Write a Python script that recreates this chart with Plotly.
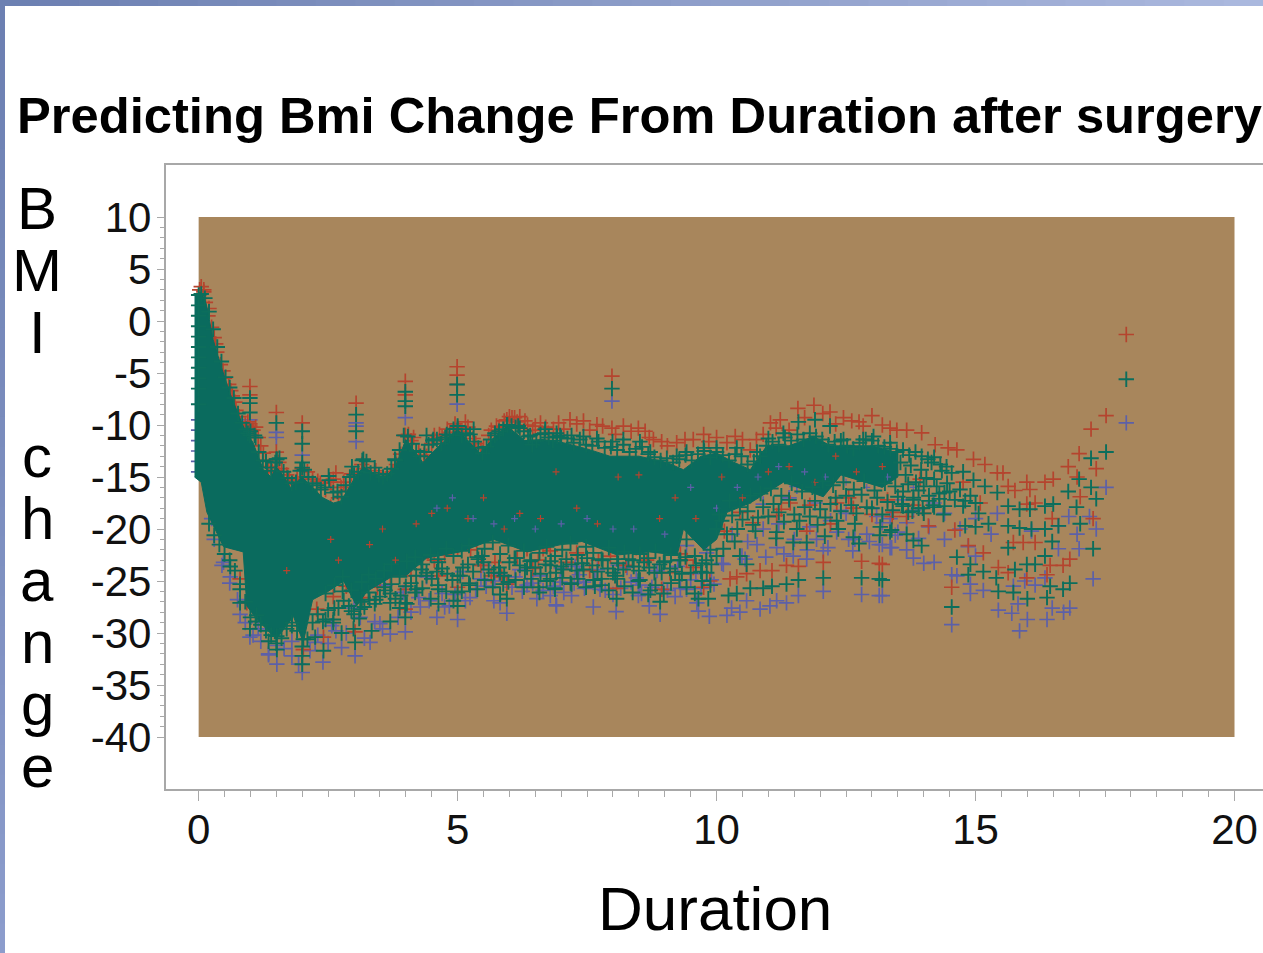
import plotly.graph_objects as go

TITLE = "Predicting Bmi Change From Duration after surgery"
X_LABEL = "Duration"
Y_LABEL_LETTERS = ["B", "M", "I", "", "c", "h", "a", "n", "g", "e"]
X_TICKS = [0, 5, 10, 15, 20]
X_TICK_TEXT = ["0", "5", "10", "15", "20"]
Y_TICKS = [10, 5, 0, -5, -10, -15, -20, -25, -30, -35, -40]
Y_TICK_TEXT = ["10", "5", "0", "-5", "-10", "-15", "-20", "-25", "-30", "-35", "-40"]

# outline of the region where the plus signs overprint into a solid mass
core_top_x = [-0.08,0.05,0.15,0.28,0.45,0.6,0.85,1.05,1.25,1.4,1.5,1.65,1.77,2.0,2.2,2.4,2.6,2.75,3.0,3.18,3.56,3.8,4.0,4.15,4.33,4.6,5.0,5.2,5.43,5.7,5.95,6.3,6.65,7.04,7.5,7.94,8.5,9.04,9.36,9.7,10,10.3,10.65,10.97,11.4,11.87,12.2,12.58,13,13.5]
core_top_y = [2.5,2.8,1.6,-1.8,-4.6,-6.9,-10,-11.7,-14.3,-15,-14,-15,-16,-15,-16,-17,-17.5,-17.3,-15.2,-14,-15.2,-14,-11.4,-12.4,-13.6,-12.2,-10.4,-11.5,-12.7,-11.2,-10.1,-11.5,-11.4,-11.7,-12.3,-13,-13,-13.6,-14.3,-13,-12.7,-13.5,-14.3,-12,-12,-11.1,-12,-12,-12,-12.7]
core_bot_x = [-0.08,0.05,0.16,0.48,0.86,0.93,1.13,1.5,1.83,2.02,2.2,2.5,2.8,3.05,3.25,3.76,4.0,4.4,5.05,5.7,6.34,7,7.4,8.08,8.7,9.24,9.36,9.75,10,10.2,10.65,11.29,12.06,12.4,13.2,13.5]
core_bot_y = [-15,-15.5,-18.4,-21.7,-22.2,-27.4,-28.7,-30.6,-28.4,-30.9,-26.8,-26,-25,-27.4,-26,-24.5,-24.5,-22.8,-22.2,-21,-22.2,-21.5,-21.2,-22.5,-22.2,-22.5,-20,-22,-21,-18.4,-17.5,-15.5,-16.9,-14.8,-16,-15]

blue_x = [0.0,0.0,0.0,0.0,0.0,0.0,0.99,1.5,1.5,2.0,3.04,3.04,3.04,3.99,4.99,7.98,
0.25,0.48,0.61,0.8,0.99,1.15,1.35,1.51,1.51,1.8,1.93,2.0,2.25,2.4,2.57,2.76,3.02,3.31,3.5,3.7,3.99,4.28,4.6,4.84,5,5.24,5.95,5.82,6.11,6.53,6.91,5.5,5.72,6.34,3,3.12,1.25,
6.9,7.62,8.06,8.0,8.7,8.91,8.49,9.3,9.42,9.62,9.65,9.86,10.2,10.29,10.45,10.58,10.84,11.03,11.16,11.35,11.58,12.06,12.8,13.14,13.38,13.14,12.63,12.67,12.32,12.06,11.74,11.48,11.16,10.78,10.49,10.13,9.81,7.43,7.2,7.75,8.52,8.27,8.97,9.42,7.27,6.79,6.98,11.93,11.55,12.45,13.09,
17.91,17.52,17.33,17.2,16.96,16.8,17,17.27,16.6,16.82,16.7,16.48,16.38,16,15.85,15.7,15.44,15.82,15.73,15.95,16.15,16.34,15.15,14.9,14.9,14.54,14.64,14.54,14.2,14.0,13.8,13.67,13.35,13.2,15.42,15,14.86,16.08,16.6,14.4,13.67,13.35,13.2,
.3,.45,.6,.75,.9,1.05,1.2,1.35,1.65,1.8,2.15,2.3,2.5,2.65,2.85,3.2,3.4,3.55,3.85,4.1,4.25,4.45,4.75,4.95,5.15,5.35,5.55,5.7,6.05,6.25,6.45,6.65,6.85,7.05,7.25,7.45,7.65,7.85,8.15,8.35,8.55,8.75,9.05,9.2,9.5,9.7,9.95,
10.3,10.6,10.9,11.2,11.5,11.8,12.2,12.5,12.9,13.2,13.5,13.8,14.1,14.4,14.7,15,15.3,10.9,11.4,11.9,12.4,13,13.6,14.2,
3.6,3.95,4.4,4.7,5.1,5.45,5.8,6.2,6.6,7.0,7.35,7.7,8.1,8.45,8.85,9.25,9.6,9.9,10.1,10.55,10.95,11.3,11.75,12.15,12.55,12.95,13.45,13.9]
blue_y = [-9.5,-10.5,-11.5,-12.5,-13.5,-14.5,-9.5,-10.7,-11.2,-12.9,-9.8,-10.1,-11.6,-9.3,-8,-7.7,
-19,-23.2,-24.6,-28.2,-30.4,-29.6,-32,-31.2,-33,-32.2,-33,-33.8,-30.9,-32.8,-29.3,-31.4,-32.2,-30.9,-29.1,-30.1,-29.9,-27.5,-28.5,-27.4,-28.7,-26.6,-28.1,-27.1,-24.6,-26.7,-27.4,-23.5,-25,-25.4,-27.6,-28.5,-27.4,
-27.3,-27.5,-27.95,-26.3,-27.4,-28.2,-26.4,-25.7,-25.8,-27.1,-27.9,-28.4,-28.3,-27.6,-28,-26.9,-27.7,-27.4,-26.9,-27.1,-26.4,-26,-26.3,-26.4,-21.8,-21.5,-22.1,-21,-20.3,-22.1,-22.9,-22.6,-21.8,-21.5,-22.6,-23.4,-22.3,-25.1,-26.4,-25.8,-25.4,-23.7,-25.8,-21.6,-23.6,-26.4,-25.1,-21,-15.9,-14.6,-18.8,
-9.8,-16,-20,-18.8,-20.5,-18.8,-21.9,-24.8,-21.9,-27.6,-28,-27.6,-28.7,-28.7,-29.8,-28.1,-27.8,-27.2,-25.5,-25,-25.4,-24.7,-25.9,-26.2,-25.3,-24.4,-24.5,-29.2,-23.2,-23.3,-22.8,-22,-21.8,-26.4,-18.5,-22.6,-21.7,-20.2,-19.7,-21,-19.4,-19,-21.5,
-21,-23.5,-25.2,-26.8,-29,-30.2,-30.8,-32.1,-31.5,-30.8,-31.7,-30.2,-31,-29.8,-30,-30.5,-28.9,-29.6,-28.5,-28,-26.6,-26.9,-27.5,-26.3,-26.9,-25.8,-25.5,-26.9,-25.6,-26,-25.2,-25.9,-25.5,-26.1,-25.2,-25.7,-24.9,-25.9,-25.7,-25.1,-26.2,-25.6,-25.9,-26.5,-24.9,-25.7,-25.3,
-20.5,-21.2,-20,-19.5,-21,-19.8,-19.2,-18.5,-20.5,-19.4,-20.3,-18.2,-19.8,-18.5,-20,-19,-20.5,-17.6,-17,-17.5,-18.2,-18,-17.2,-17.5,
-25.4,-26.1,-24.6,-26.2,-24.1,-24.8,-24.3,-23.9,-24.5,-23.8,-24.4,-23.9,-23.5,-24.7,-24,-23.6,-24.3,-24.9,-23.3,-22.9,-22.7,-22.4,-22,-21.8,-21,-21.2,-20.6,-20.9]

red_x = [0.02,0.05,0.1,0.13,0.18,0.25,0.3,0.35,0.42,0.5,0.58,0.65,0.72,0.8,0.9,1.1,1.2,1.3,1.42,1.55,1.7,1.82,1.9,2.1,2.3,2.45,2.55,2.65,2.75,2.85,2.95,3.08,3.15,3.3,3.42,3.55,3.7,3.82,3.98,4.1,4.25,4.4,4.55,4.7,4.85,5,5.1,5.2,5.35,5.45,5.6,5.75,5.9,6,6.1,6.2,6.3,6.45,6.6,6.75,
6.95,7.17,7.43,7.69,7.98,8.2,8.49,8.62,8.78,8.94,9.23,9.39,9.75,10,10.36,10.5,10.77,11.04,11.23,11.57,11.88,12.19,12.45,12.61,13,12.83,13.35,13.48,
13.67,13.96,14.22,14.47,14.64,14.96,15.18,15.42,15.53,15.63,15.76,15.99,16.05,16.34,16.5,16.79,17,17.23,17.52,17.91,
17.33,16.96,17.02,17.27,16.48,16.82,16.69,16.44,16.38,15.73,15.92,16.15,15.44,15.63,15.99,14.54,13.2,14.6,14.86,15.15,13.93,14.09,13.67,13.39,15.09,15.99,16.15,14.76,
0.99,0.99,0.99,0.99,1.5,1.5,2.0,2.0,3.04,3.99,3.99,3.99,4.99,4.99,4.99,7.98,
2.45,2.55,2.7,10.26,10.39,10.58,10.84,11.07,11.35,11.58,12.06,12.8,13.14,9.42,9.87,9.75,8.07,8.94,7.72,11.42,10.45,11.16,11.74,12.64,13.41,12.32,
0.8,0.93,1.35,2.02,2.41,3.02,2.28,2.51,3.18,3.5,3.7,3.99,3.99,4.63,4.63,5,5,5.72,5.95,6.34,6.56,6.79,5.37,4.02,
.1,.2,.33,.47,.62,.7,.78,.95,1.05,1.15,1.25,1.35,1.5,1.6,1.75,2.0,2.2,2.35,2.6,2.8,3.05,3.2,3.4,3.6,3.75,3.9,4.05,4.15,4.35,4.5,4.65,4.8,4.95,5.05,5.15,5.3,5.5,5.65,5.8,5.95,6.05,6.15,6.35,6.5,6.7,6.85,7.05,7.3,7.55,7.8,8.05,8.35,8.7,9.05,9.55,9.85,10.2,10.65,10.9,11.15,11.4,11.7,12.05,12.3,12.75,13.2,
2.3,2.6,2.85,3.25,3.45,3.85,4.1,4.3,4.55,4.75,5.25,5.45,5.65,5.85,6.15,6.45,6.65,7.1,7.3,7.55,7.95,8.25,8.45,8.65,9.1,9.3,9.55,
10.15,10.7,11.25,11.8,12.2,12.55,13.0,13.3,13.8,14.0]
red_y = [3,3.3,2.8,1.8,0.5,-0.6,-1.6,-3,-4.2,-5.5,-6.1,-7.2,-8.6,-9.9,-10,-10.2,-12,-13.4,-14.5,-13.6,-14.8,-15.7,-15.2,-14.5,-15.4,-16.2,-15.5,-14.6,-16,-16.3,-14.7,-15.8,-13.8,-15,-14.4,-15.6,-15,-13.8,-11,-11.5,-12.5,-13,-11,-11.2,-10.7,-10.2,-11,-10.2,-11.8,-12.3,-11,-10.1,-9.6,-9.2,-9.3,-9.2,-9.6,-10.5,-9.8,-10.8,
-9.8,-9.5,-9.6,-9.97,-10.3,-10.1,-10.3,-10.6,-11.4,-11.6,-11.7,-11.4,-10.9,-11.2,-11.1,-11.4,-11.4,-9.8,-9.5,-8.4,-8.1,-8.75,-9.3,-9.6,-9.1,-10.1,-10.3,-10.5,
-10.5,-10.75,-11.9,-12.2,-12.4,-13.3,-13.8,-14.6,-14.6,-15.9,-16.3,-15.5,-16.2,-15.5,-15.2,-14,-12.75,-10.4,-9.1,-1.3,
-14.2,-15,-16.9,-19,-19,-22.9,-23.5,-23.5,-24.4,-21.3,-21.3,-21.3,-23.7,-24.2,-24.7,-25.6,-23.4,-20.1,-21.6,-22.3,-15.2,-19.7,-18.8,-18.8,-17.5,-17.6,-17.5,-15.5,
-6.3,-7.1,-9.9,-10.1,-8.8,-12.6,-9.8,-14.2,-7.9,-5.8,-7.1,-11,-4.4,-5.2,-6.1,-5.3,
-18,-17.9,-17,-24.8,-24.6,-24.3,-24,-24,-23.5,-23.6,-23.2,-23.1,-23.3,-23,-25,-25.6,-25.7,-25.8,-23,-17.5,-18.4,-18.7,-20.2,-18,-18.4,-17.5,
-24.8,-27.1,-28.3,-31.6,-30.4,-29.9,-27.7,-23.8,-26.6,-24.8,-24.5,-25.8,-27.7,-22.1,-24.5,-21.9,-25.6,-23.2,-25.3,-21.9,-23,-22.1,-21.3,-22.6,
3,1.2,-2.2,-4.8,-6.7,-7.8,-9.2,-9.7,-10.5,-11.2,-12.7,-14,-14.4,-14.2,-15.3,-15,-15.2,-15.6,-15.2,-15.5,-14.9,-14.2,-14.6,-15.2,-14.5,-12.8,-10.9,-11.2,-12.9,-11.8,-10.9,-10.4,-9.9,-10.6,-9.7,-11.3,-12.1,-10.5,-10.2,-9.5,-9.3,-9.7,-10,-10.1,-10.2,-10.4,-10.4,-9.9,-10.5,-10.1,-10.9,-10.6,-11.2,-12,-11.4,-11.6,-11.7,-12.4,-10.9,-10.3,-10.5,-9.3,-8.9,-9.9,-9.7,-10,
-25,-26.5,-25.5,-24,-25.6,-23.5,-24.5,-22.8,-23,-22.5,-22,-23.5,-24.5,-24.6,-22.8,-23.8,-21.9,-23.2,-22.3,-24,-22.6,-23.5,-21.8,-23,-24.2,-22.4,-23.7,
-20.2,-19.4,-18.1,-17.7,-19.5,-17,-18.6,-17.2,-17.7,-18.5]

green_x = [0.0,0.0,0.0,0.0,0.0,0.0,0.0,0.0,0.0,0.0,0.0,
0.99,0.99,0.99,0.99,1.5,1.5,2.0,2.0,2.0,3.04,3.04,3.99,3.99,3.99,4.99,4.99,7.98,
1.51,2,2.51,2.96,3.18,3.79,4.4,4.53,4.79,5,5.31,5.72,5.95,6.17,6.4,6.69,6.91,0.95,1.1,1.3,
0.61,0.8,0.8,0.99,1.12,1.35,1.51,1.51,1.8,2.02,2,2,2.25,2.41,2.6,2.76,2.99,3.02,3.12,3.34,3.7,3.99,3.99,3.7,4.21,4.63,4.63,4.63,5,5,5.24,5.88,5.95,5.82,6.34,6.56,6.79,5.47,5.05,4.4,
6.88,7.2,7.65,8.04,8.07,8.72,8.91,8.49,8.94,9.33,9.84,9.65,9.81,10.23,10.39,10.65,10.9,11.07,11.35,11.58,12.06,12.8,13.14,13.38,13.16,12.67,12.64,12.32,12.09,11.74,11.48,11.16,10.58,10.45,10.13,7.43,7.04,7.78,6.79,
6.98,7.2,7.43,7.69,7.99,8.2,8.52,8.72,9.23,9.42,9.75,10,10.39,10.78,11,11.29,11.58,11.9,12.19,12.45,12.83,13.03,13.35,
17.91,17.52,17.23,17.23,17.33,17,16.79,16.95,17.02,17.27,16.48,16.5,16.34,16.05,15.85,15.63,15.42,15.18,14.96,14.76,14.54,16.08,15.85,15.63,16.34,16.6,16.34,16.15,15.99,15.76,16.44,16.38,16.69,16.82,16,15.73,15.44,15.4,15.15,14.9,14.86,14.64,14.54,13.96,13.8,13.67,13.35,13.2,15,14.8,15.63,15.25,15.06,14.76,
.05,.12,.2,.28,.36,.44,.52,.6,.68,.76,.84,.92,1.0,1.08,1.16,1.24,1.32,1.4,1.48,1.56,1.64,1.72,1.8,1.88,1.96,2.04,2.12,2.2,2.28,2.36,2.44,2.52,2.6,2.68,2.76,2.84,2.92,3.0,3.08,3.16,3.24,3.32,3.4,3.48,3.56,3.64,3.72,3.8,3.88,3.96,4.04,4.12,4.2,4.28,4.36,4.44,4.52,4.6,4.68,4.76,4.84,4.92,5.0,5.08,5.16,5.24,5.32,5.4,5.48,5.56,5.64,5.72,5.8,5.88,5.96,6.04,6.12,6.2,6.28,6.36,6.44,6.52,6.6,6.68,6.76,6.84,6.92,7.0,
7.12,7.24,7.36,7.48,7.6,7.72,7.84,7.96,8.08,8.2,8.32,8.44,8.56,8.68,8.8,8.92,9.04,9.16,9.28,9.4,9.52,9.64,9.76,9.88,10,10.12,10.24,10.36,10.48,10.6,10.72,10.84,10.96,11.08,11.2,11.32,11.44,11.56,11.68,11.8,11.92,12.04,12.16,12.28,12.4,12.52,12.64,12.76,12.88,13,13.12,13.24,13.36,13.48,13.6,13.72,13.84,13.96,14.08,14.2,14.32,14.44,
.2,.3,.4,.5,.6,.7,.8,.9,1,1.1,1.2,1.3,1.4,1.5,1.6,1.7,1.8,1.9,2,2.1,2.2,2.3,2.4,2.5,2.6,2.7,2.8,2.9,3,3.1,3.2,3.3,3.4,3.5,3.6,3.7,3.8,3.9,4,4.1,4.2,4.3,4.4,4.5,4.6,4.7,4.8,4.9,5,5.1,5.2,5.3,5.4,5.5,5.6,5.7,5.8,5.9,6,6.1,6.2,6.3,6.4,6.5,6.6,6.7,6.8,6.9,7,7.1,7.2,7.3,7.4,7.5,7.6,7.7,7.8,7.9,8,8.1,8.2,8.3,8.4,8.5,8.6,8.7,8.8,8.9,9,9.1,9.2,9.3,9.4,9.5,9.6,9.7,9.8,9.9,10,
10.0,10.1,10.2,10.3,10.4,10.5,10.6,10.7,10.8,10.9,11,11.1,11.2,11.3,11.4,11.5,11.6,11.7,11.8,11.9,12,12.1,12.2,12.3,12.4,12.5,12.6,12.7,12.8,12.9,13,13.1,13.2,13.3,13.4,13.5,13.6,13.7,13.8,13.9,14,14.1,14.2,14.3,14.4,14.5,14.6,14.7,14.8,14.9,15,
2.45,2.62,2.78,2.95,3.15,3.28,3.42,3.58,3.72,3.88,4.02,4.18,4.32,4.48,4.62,4.78,4.92,5.08,5.22,5.38,5.52,5.68,5.82,5.98,6.12,6.28,6.42,6.58,6.72,6.88,7.02,7.18,7.32,7.48,7.62,7.78,7.92,8.08,8.22,8.38,8.52,8.68,8.82,8.98,9.12,9.28,9.42,9.58,9.72,9.88,
2.45,2.62,2.78,2.95,3.15,3.28,3.42,3.58,3.72,3.88,4.02,4.18,4.32,4.48,4.62,4.78,4.92,5.08,5.22,5.38,5.52,5.68,5.82,5.98,6.12,6.28,6.42,6.58,6.72,6.88,7.02,7.18,7.32,7.48,7.62,7.78,7.92,8.08,8.22,8.38,8.52,8.68,8.82,8.98,9.12,9.28,9.42,9.58,9.72,9.88,
13.55,13.65,13.75,13.85,13.95,14.05,14.15,14.25,14.35,14.45,13.6,13.7,13.8,13.9,14,14.1,14.2,14.3,14.4,13.58,13.78,13.98,14.18,14.38,
10.05,10.25,10.45,10.65,10.85,11.05,11.25,11.45,11.65,11.85,12.05,12.25,12.45,12.65,12.85,13.05,13.25,13.45,10.35,10.75,11.15,11.55,11.95,12.35,12.75,13.15]
green_y = [2.5,1.5,0.5,-0.5,-1.5,-2.5,-3.5,-4.5,-5.5,-6.5,-8,
-7.4,-7.9,-8.8,-11,-9.8,-13.3,-10.6,-11.8,-13.6,-9,-10.6,-6.8,-8.2,-7.7,-6.1,-7.1,-6.5,
-13.3,-14.1,-14.9,-14,-13.3,-13.3,-11,-11.4,-10.9,-10.4,-10.4,-10.8,-10,-10.1,-11,-10.4,-10.8,-10.8,-11.2,-13.5,
-23.6,-25.8,-27.1,-29.6,-28.3,-30.8,-30.3,-31.6,-29.3,-30.6,-32.2,-33,-30.4,-31.7,-28.7,-30,-29.6,-30.9,-27.7,-29.8,-28.9,-28.5,-27.1,-27.1,-25.8,-23.2,-25.8,-27.2,-26.1,-27.4,-25.4,-25.3,-26.7,-24.2,-23.7,-25.6,-23.5,-22.6,-24.5,-24.5,
-25.8,-25.3,-25.5,-24.5,-26.7,-25.9,-27,-25,-24.2,-24.3,-26.7,-26.7,-24.2,-26.4,-26.2,-25.7,-25.7,-25.5,-25.3,-24.9,-24.7,-24.7,-24.8,-20.1,-19.8,-19.5,-20.8,-19.2,-20.7,-21.3,-21.3,-20.3,-23.4,-22.6,-21.9,-23.9,-23.9,-24.8,-24.8,
-11,-11,-11.1,-11.3,-11.6,-11.4,-11.6,-12.6,-13,-12.6,-12.2,-12.2,-12.2,-12.6,-11.3,-10.8,-9.7,-9.5,-10.1,-11.4,-11.4,-11.1,-11.7,
-5.6,-12.6,-13.2,-16,-17.1,-15.2,-16.4,-17.9,-19.5,-21.9,-21.2,-17.6,-17.8,-18.1,-18.1,-17.8,-16.5,-15.9,-15.3,-14.5,-14.6,-20,-19.9,-19.7,-20,-19.7,-22.6,-23.4,-23.4,-23.9,-25.5,-26.6,-25.8,-25.2,-26.7,-26.1,-26,-24.7,-24.1,-23.4,-24.4,-22.7,-27.5,-21.6,-21.1,-20.5,-20.3,-24.9,-19.8,-19.7,-21.8,-19.5,-18.5,-17.8,
2.6,2.2,.9,-.8,-2.5,-3.9,-5.4,-6.4,-7.4,-8.9,-9.8,-10.4,-10.6,-11,-12.6,-13.4,-14.1,-14.4,-13.6,-13.2,-14.5,-15.1,-15.6,-15.5,-14.4,-14.3,-15,-15.6,-15.8,-16.2,-16,-15.3,-16.5,-16.4,-16.9,-15.8,-15,-14.8,-14.5,-13.4,-13.5,-14.6,-14.1,-14.8,-15,-14.7,-14.2,-13.4,-12.4,-11,-11.1,-11.8,-12.5,-13,-12.6,-11.9,-11.5,-11.4,-11.8,-11.2,-11,-10.4,-10.1,-11,-10.8,-10.9,-11.6,-12.2,-12.7,-12.1,-11.4,-11,-10.6,-10.4,-10.0,-10.1,-10.2,-10.3,-10.6,-11.1,-11.9,-11.5,-10.9,-10.8,-11.2,-11.5,-11.1,-11.2,
-11.3,-11.7,-11.4,-11.9,-12,-11.6,-12.2,-12.1,-12.4,-11.9,-12.6,-12.3,-12.1,-12.8,-13.1,-13.4,-13.2,-13.6,-13.3,-12.9,-13.4,-12.8,-12.5,-13.1,-12.6,-12.9,-13.4,-12.8,-13,-13.8,-13.5,-13,-12,-11.6,-11.9,-11.2,-11.5,-10.9,-11.4,-10.8,-11.1,-11.4,-11.9,-11.6,-11.5,-12,-12.3,-11.7,-11.4,-11.5,-12,-12.1,-12.3,-12.6,-12.4,-12.9,-12.6,-13,-13.3,-13.1,-13.8,-14,
-19.5,-20.6,-21.5,-22.4,-23,-24,-25.3,-27,-28.5,-28.9,-29.2,-29.8,-30.2,-31,-30.5,-29.6,-29,-29.8,-31.3,-30.6,-29,-28.2,-28.9,-27.8,-29,-27.6,-26.9,-27.4,-28.2,-28.6,-27.5,-26.8,-27.2,-26.5,-25.9,-26.2,-26.7,-26.4,-25.5,-25.2,-24.5,-23.9,-24.2,-24.8,-24.1,-23.8,-24.3,-24.9,-24.5,-23.7,-23.4,-24.1,-22.9,-23.2,-23.9,-24.2,-23.7,-24.5,-23.2,-22.8,-23.5,-24,-23.1,-23.7,-24.3,-23.4,-23.1,-24.2,-23.6,-22.9,-23.4,-24,-23.3,-22.8,-23.5,-24.1,-23,-23.8,-24.2,-23.3,-23.9,-22.9,-23.6,-24,-23.2,-23.7,-24.2,-23.4,-23.1,-23.8,-24.1,-23,-22.7,-24.2,-23.5,-24.1,-23,-23.4,-22.6,
-20,-19.2,-20.5,-18.7,-20,-19.1,-18.3,-19.6,-18.9,-17.9,-18.8,-17.6,-18.4,-19.3,-17.2,-18.6,-19.2,-17.9,-18.8,-17.3,-18.1,-18.9,-17.6,-17,-18.3,-16.8,-17.7,-18.5,-16.7,-17.9,-18,-17,-18.6,-17.4,-18.2,-16.9,-17.8,-18.4,-17.2,-18,-18.5,-17.3,-17.9,-16.6,-17.8,-16.4,-17.2,-16.2,-17.3,-16.8,-17.5,
-26.2,-25.4,-24.6,-25.9,-25.1,-24.4,-24.8,-24,-23.4,-24.6,-23.1,-22.7,-23.4,-22.5,-22.9,-21.9,-22.6,-22.1,-21.6,-22.7,-21.9,-21.3,-22.4,-21.6,-22.8,-22.1,-23,-22.3,-21.7,-22.6,-22,-21.4,-22.5,-21.7,-22.3,-22.9,-21.8,-22.9,-22.2,-23,-22.4,-22.8,-22.1,-23.2,-22.5,-23,-21,-22.6,-23.3,-22,
-28.7,-27.6,-26,-27.9,-27,-26.1,-26.8,-25.6,-25.3,-27.6,-27.2,-26.1,-25.7,-26.7,-25.4,-26,-26.9,-26,-25.2,-25.8,-24.9,-25.6,-26.3,-25.1,-24.9,-25.6,-24.8,-26.1,-25,-25.7,-24.7,-25.2,-24.8,-25.6,-24.9,-25.4,-25.9,-24.8,-25.5,-26.1,-24.9,-26.3,-25.4,-26.2,-25.2,-24.9,-25.6,-26.2,-25,-25.4,
-13.6,-14.8,-13.9,-15.5,-14.3,-15.1,-13.6,-15.9,-14.4,-15.6,-16.4,-15.7,-17,-16.3,-15.9,-16.8,-15.2,-17.1,-16.5,-17.6,-18.3,-18,-17.7,-18.6,
-18.6,-17.3,-17.9,-16.8,-16.6,-16.1,-16.8,-15.6,-16.4,-16,-15.4,-15.8,-15.5,-16.2,-15.4,-16.3,-15.6,-15.9,-21.2,-20.2,-20.9,-20,-19.6,-20,-21.4,-20.6]

# small flecks of the under-printed series that show through the solid mass
fleck_red_x = [1.7,2.55,2.7,3.3,3.55,3.8,4.2,4.5,4.8,5.2,5.5,5.9,6.2,6.6,6.9,7.3,7.7,8.1,8.5,8.9,9.2,9.6,10.1,10.5,11,11.4,11.9,12.3,12.7,13.2,13.7]
fleck_red_y = [-24,-21,-23,-21.5,-20,-23,-19.5,-18.5,-18,-19,-17,-20,-18.5,-19,-14.5,-18,-19.5,-15,-14.8,-19,-17,-19,-15,-17,-14.5,-14,-15.5,-13,-14.5,-14,-15.5]
fleck_blue_x = [4.6,4.9,5.3,5.7,6.1,6.5,7.0,7.5,8.0,8.4,9.0,9.5,10.0,10.4,10.8,11.2,11.7,12.1,12.5,12.9,13.3,13.8]
fleck_blue_y = [-18,-17,-19,-19.5,-19,-20,-19.5,-19,-20,-20,-20.5,-16,-18,-16,-15,-14,-14.5,-15,-15.5,-16,-15,-16]

BROWN = "#A8865C"
TEAL = "#0A6B5E"
RED = "#B5442E"
GREEN = "#0C6E5C"
BLUE = "#5C60A8"
AXIS = "#A8A8A8"
W, H = 1263, 953
X0, X1 = 165.5 / W, 1.0
Y0, Y1 = 1 - 789.0 / H, 1 - 165.0 / H
FONT = "Liberation Sans, Arial, sans-serif"

fig = go.Figure()
fig.add_trace(go.Scatter(x=blue_x, y=blue_y, mode="markers", hoverinfo="skip",
    marker=dict(symbol="cross-thin", size=11, color=BLUE, line=dict(color=BLUE, width=1.7))))
fig.add_trace(go.Scatter(x=red_x, y=red_y, mode="markers", hoverinfo="skip",
    marker=dict(symbol="cross-thin", size=11, color=RED, line=dict(color=RED, width=1.7))))
fig.add_trace(go.Scatter(x=core_top_x + core_bot_x[::-1], y=core_top_y + core_bot_y[::-1],
    mode="lines", fill="toself", fillcolor=TEAL, line=dict(color=TEAL, width=1), hoverinfo="skip"))
fig.add_trace(go.Scatter(x=fleck_red_x, y=fleck_red_y, mode="markers", hoverinfo="skip",
    marker=dict(symbol="cross-thin", size=5, color=RED, line=dict(color=RED, width=1.2))))
fig.add_trace(go.Scatter(x=fleck_blue_x, y=fleck_blue_y, mode="markers", hoverinfo="skip",
    marker=dict(symbol="cross-thin", size=5, color=BLUE, line=dict(color=BLUE, width=1.2))))
fig.add_trace(go.Scatter(x=green_x, y=green_y, mode="markers", hoverinfo="skip",
    marker=dict(symbol="cross-thin", size=11, color=GREEN, line=dict(color=GREEN, width=1.9))))

shapes = [dict(type="rect", layer="below", xref="x", yref="y", x0=0, x1=20, y0=-40, y1=10,
               fillcolor=BROWN, line=dict(width=0))]
# slide background: gradient strips along the top and left edges
n = 32
for i in range(n):
    t = i / (n - 1)
    c = "rgb(%d,%d,%d)" % (108 + 62 * t, 128 + 56 * t, 178 + 44 * t)
    shapes.append(dict(type="rect", layer="above", xref="paper", yref="paper", x0=i / n, x1=(i + 1) / n + 0.001,
                       y0=1 - 6 / H, y1=1, fillcolor=c, line=dict(width=0)))
    c = "rgb(%d,%d,%d)" % (108 + 32 * t, 128 + 28 * t, 178 + 26 * t)
    shapes.append(dict(type="rect", layer="above", xref="paper", yref="paper", x0=0, x1=5 / W,
                       y0=1 - (i + 1) / n - 0.001, y1=1 - i / n, fillcolor=c, line=dict(width=0)))

annotations = [
    dict(text="<b>%s</b>" % TITLE, xref="paper", yref="paper", x=14.5 / W, y=1 - 116 / H, xanchor="left", yanchor="middle",
         showarrow=False, font=dict(family=FONT, size=50.7, color="black")),
    dict(text=X_LABEL, xref="paper", yref="paper", x=715 / W, y=1 - 908 / H, xanchor="center", yanchor="middle",
         showarrow=False, font=dict(family=FONT, size=62, color="black")),
]
for i, ch in enumerate(Y_LABEL_LETTERS):
    if ch:
        annotations.append(dict(text=ch, xref="paper", yref="paper", x=37 / W, y=1 - (208 + 62 * i) / H,
                                xanchor="center", yanchor="middle", showarrow=False,
                                font=dict(family=FONT, size=60, color="black")))

fig.update_layout(
    width=W, height=H, autosize=False, margin=dict(l=0, r=0, t=0, b=0),
    paper_bgcolor="white", plot_bgcolor="white", showlegend=False,
    shapes=shapes, annotations=annotations,
    xaxis=dict(domain=[X0, X1], range=[-0.64, 20.55], showgrid=False, zeroline=False, showline=True, linecolor=AXIS,
               linewidth=1.5, mirror=True, ticks="outside", ticklen=10, tickcolor=AXIS, tickwidth=1.2,
               tickvals=X_TICKS, ticktext=X_TICK_TEXT, tickfont=dict(family=FONT, size=42, color="#111"),
               ticklabelstandoff=-7,
               minor=dict(tickvals=[i * 0.5 for i in range(41)], ticks="outside", ticklen=6, tickcolor=AXIS, tickwidth=1)),
    yaxis=dict(domain=[Y0, Y1], range=[-45, 15], showgrid=False, zeroline=False, showline=True, linecolor=AXIS,
               linewidth=1.5, ticks="outside", ticklen=7, tickcolor=AXIS, tickwidth=1.2,
               tickvals=Y_TICKS, ticktext=Y_TICK_TEXT, tickfont=dict(family=FONT, size=42, color="#111"),
               ticklabelstandoff=-3,
               minor=dict(tickvals=list(range(-40, 11)), ticks="outside", ticklen=4, tickcolor=AXIS, tickwidth=1)),
)
fig.write_html("out.html", config={"displayModeBar": False},
               post_script="document.body.style.margin='0';document.documentElement.style.overflow='hidden';")
